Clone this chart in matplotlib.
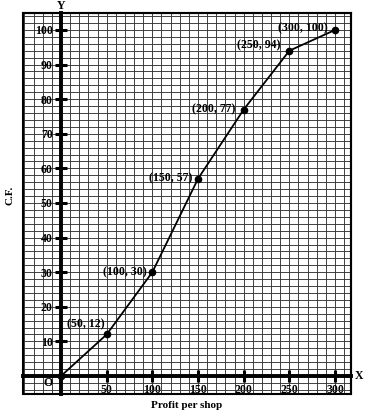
import numpy as np
import matplotlib
matplotlib.use("Agg")
import matplotlib.pyplot as plt

# ogive data
profit = [0, 50, 100, 150, 200, 250, 300]
cf = [0, 12, 30, 57, 77, 94, 100]
point_labels = ["(50, 12)", "(100, 30)", "(150, 57)", "(200, 77)", "(250, 94)", "(300, 100)"]
x_ticks = [50, 100, 150, 200, 250, 300]
y_ticks = [10, 20, 30, 40, 50, 60, 70, 80, 90, 100]

plt.rcParams['font.family'] = ['Liberation Serif', 'DejaVu Serif']
plt.rcParams['font.weight'] = 'bold'

fig = plt.figure(figsize=(3.66, 4.18), dpi=100)
ax = fig.add_axes([23/366, 24/418, 328/366, 381/418])
ax.set_xlim(-41.6, 317.5)
ax.set_ylim(-5.2, 104.9)

# graph paper
ax.set_xticks(np.arange(-40, 318, 10), minor=True)
ax.set_yticks(np.arange(-4, 105, 2), minor=True)
ax.grid(which='both', color='#333333', linewidth=0.65)
ax.set_axisbelow(True)
ax.tick_params(which='minor', length=0)

# axes through the origin
ax.spines['left'].set_position(('data', 0))
ax.spines['bottom'].set_position(('data', 0))
ax.spines['left'].set_linewidth(2.8)
ax.spines['bottom'].set_linewidth(2.8)
ax.spines['top'].set_linewidth(1.5)
ax.spines['right'].set_linewidth(1.5)
ax.add_patch(plt.Rectangle((0, 0), 1, 1, transform=ax.transAxes, fill=False,
                           edgecolor='black', linewidth=1.5, zorder=3, clip_on=False))

ax.set_xticks(x_ticks)
ax.set_yticks(y_ticks)
ax.tick_params(which='major', direction='inout', length=8, width=2.2, labelsize=8.5)
ax.tick_params(axis='x', which='major', pad=2)
ax.tick_params(axis='y', which='major', pad=2)

ax.plot(profit, cf, color='black', linewidth=1.3, marker='o', markersize=4.5, zorder=4)

offsets = [(-21, 10, 'center'), (-6, 0, 'right'), (-6, 0, 'right'),
           (-8, 0, 'right'), (-9, 5, 'right'), (-7, 2, 'right')]
for x, y, lab, (dx, dy, ha) in zip(profit[1:], cf[1:], point_labels, offsets):
    ax.annotate(lab, (x, y), xytext=(dx, dy), textcoords='offset pixels',
                ha=ha, va='center', fontsize=8.5, fontweight='bold')

ax.text(0, 1.003, 'Y', transform=ax.get_xaxis_transform(), ha='center', va='bottom',
        fontsize=8.5, fontweight='bold')
ax.text(1.012, 0, 'X', transform=ax.get_yaxis_transform(), ha='left', va='center',
        fontsize=8.5, fontweight='bold')
ax.text(-14, -2, 'O', ha='center', va='center', fontsize=8.5, fontweight='bold')

fig.text(10/366, 1 - 195/418, 'C.F.', rotation=90, ha='center', va='center',
         fontsize=8, fontweight='bold')
fig.text(187/366, 1 - 406/418, 'Profit per shop', ha='center', va='center',
         fontsize=8, fontweight='bold')

fig.savefig('out.png', dpi=100)
